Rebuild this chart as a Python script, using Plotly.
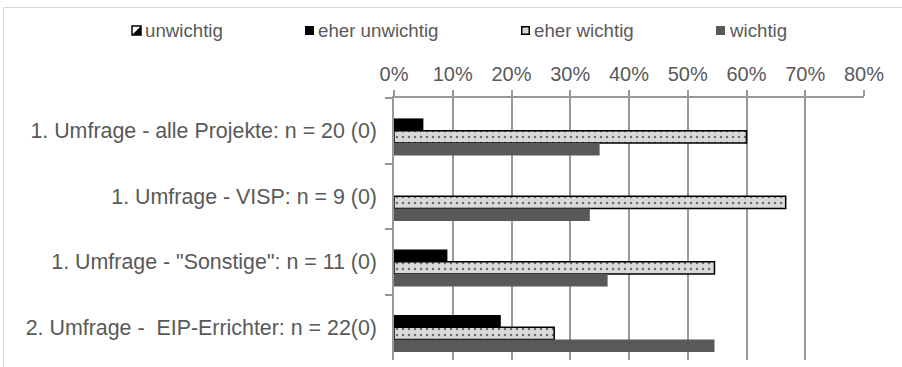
import plotly.graph_objects as go

# Survey groups (top to bottom) and answer shares per rating
categories = [
    "1. Umfrage - alle Projekte: n = 20 (0)",
    "1. Umfrage - VISP: n = 9 (0)",
    "1. Umfrage - \"Sonstige\": n = 11 (0)",
    "2. Umfrage -  EIP-Errichter: n = 22(0)",
]
unwichtig = [0.0, 0.0, 0.0, 0.0]
eher_unwichtig = [0.05, 0.0, 0.0909, 0.1818]
eher_wichtig = [0.60, 0.6667, 0.5455, 0.2727]
wichtig = [0.35, 0.3333, 0.3636, 0.5455]
x_ticks = [0, 0.1, 0.2, 0.3, 0.4, 0.5, 0.6, 0.7, 0.8]

W, H = 902, 367
ML, MR, MT, MB = 394, 38, 98, 7
PW, PH = W - ML - MR, H - MT - MB

def px(x):
    return (x - ML) / PW

def py(y):
    return (H - MB - y) / PH

FONT = "Liberation Sans, Arial, sans-serif"
TEXT = "#595959"
GRID = "#989898"

fig = go.Figure()
fig.add_bar(name="unwichtig", y=categories, x=unwichtig, orientation="h",
            marker=dict(color="white", line=dict(width=0),
                        pattern=dict(shape="/", fgcolor="black", bgcolor="white", size=5)))
fig.add_bar(name="eher unwichtig", y=categories, x=eher_unwichtig, orientation="h",
            marker=dict(color="black", line=dict(width=0)))
fig.add_bar(name="eher wichtig", y=categories, x=eher_wichtig, orientation="h",
            marker=dict(color="#d9d9d9", line=dict(color="black", width=1.5),
                        pattern=dict(shape=".", fgcolor="black", bgcolor="#d9d9d9",
                                     size=6, solidity=0.14)))
fig.add_bar(name="wichtig", y=categories, x=wichtig, orientation="h",
            marker=dict(color="#595959", line=dict(width=0)))

fig.update_layout(
    width=W, height=H,
    margin=dict(l=ML, r=MR, t=MT, b=MB, pad=0),
    paper_bgcolor="white", plot_bgcolor="white",
    barmode="group", bargap=0.246, bargroupgap=0,
    showlegend=False,
    font=dict(family=FONT, color=TEXT),
)
fig.update_xaxes(
    side="top", range=[0, 0.8], tickvals=x_ticks, tickformat=".0%",
    showgrid=True, gridcolor=GRID, gridwidth=1.5,
    showline=True, linecolor=GRID, linewidth=1.5,
    ticks="outside", ticklen=6, tickcolor=GRID, tickwidth=1.5,
    tickfont=dict(size=20, color=TEXT, family=FONT),
    ticklabelstandoff=1, zeroline=False,
)
fig.update_yaxes(
    type="category", autorange="reversed",
    showgrid=False, showline=True, linecolor=GRID, linewidth=1.5,
    ticks="outside", tickson="boundaries", ticklen=7, tickcolor=GRID, tickwidth=1.5,
    tickfont=dict(size=21.4, color=TEXT, family=FONT),
    ticklabelstandoff=11,
)

# chart frame
fig.add_shape(type="rect", xref="paper", yref="paper",
              x0=px(3.5), x1=px(930), y0=py(7.5), y1=py(400),
              line=dict(color="#d9d9d9", width=1), fillcolor="rgba(0,0,0,0)", layer="below")

# legend row
leg_y = 30.5
sq = 9
legend_items = [
    ("unwichtig", 132),
    ("eher unwichtig", 305),
    ("eher wichtig", 521),
    ("wichtig", 716),
]
for name, x0 in legend_items:
    y0, y1 = py(leg_y - sq / 2), py(leg_y + sq / 2)
    if name == "unwichtig":
        fig.add_shape(type="rect", xref="paper", yref="paper", x0=px(x0), x1=px(x0 + sq),
                      y0=y1, y1=y0, fillcolor="white", line=dict(color="black", width=1.5))
        fig.add_shape(type="path", xref="paper", yref="paper",
                      path=f"M {px(x0 + sq)} {y0} L {px(x0 + sq)} {y1} L {px(x0)} {y1} Z",
                      fillcolor="black", line=dict(width=0))
    elif name == "eher unwichtig":
        fig.add_shape(type="rect", xref="paper", yref="paper", x0=px(x0), x1=px(x0 + sq),
                      y0=y1, y1=y0, fillcolor="black", line=dict(width=0))
    elif name == "eher wichtig":
        fig.add_shape(type="rect", xref="paper", yref="paper", x0=px(x0 + 0.75), x1=px(x0 + sq - 0.75),
                      y0=py(leg_y + sq / 2 - 0.75), y1=py(leg_y - sq / 2 + 0.75),
                      fillcolor="#d9d9d9", line=dict(color="black", width=1.5))
    else:
        fig.add_shape(type="rect", xref="paper", yref="paper", x0=px(x0), x1=px(x0 + sq),
                      y0=y1, y1=y0, fillcolor="#595959", line=dict(width=0))
    fig.add_annotation(text=name, xref="paper", yref="paper", x=px(x0 + sq + 2), y=py(leg_y),
                       xanchor="left", yanchor="middle", showarrow=False,
                       font=dict(size=18.7, color=TEXT, family=FONT))

fig.write_html("out.html")
